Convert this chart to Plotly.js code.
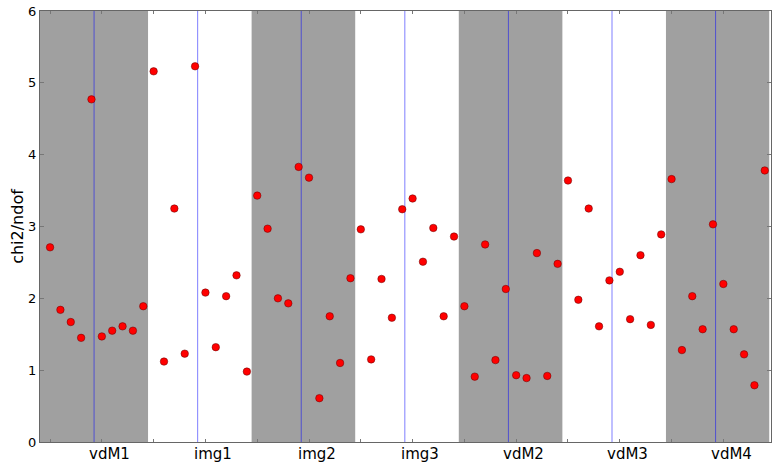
<!DOCTYPE html>
<html>
<head>
<meta charset="utf-8">
<script src="https://cdn.plot.ly/plotly-3.0.1.min.js"></script>
<style>html,body{margin:0;padding:0;background:#fff;}#chart{width:774px;height:465px;}</style>
</head>
<body>
<div id="chart"></div>
<script>
// Categories (groups of 10 measurements each)
var categories = ["vdM1", "img1", "img2", "img3", "vdM2", "vdM3", "vdM4"];

// chi2/ndof values per group
var vdM1 = [2.71, 1.84, 1.67, 1.45, 4.77, 1.47, 1.55, 1.61, 1.55, 1.89];
var img1 = [5.16, 1.12, 3.25, 1.23, 5.23, 2.08, 1.32, 2.03, 2.32, 0.98];
var img2 = [3.43, 2.97, 2.00, 1.93, 3.83, 3.68, 0.61, 1.75, 1.10, 2.28];
var img3 = [2.96, 1.15, 2.27, 1.73, 3.24, 3.39, 2.51, 2.98, 1.75, 2.86];
var vdM2 = [1.89, 0.91, 2.75, 1.14, 2.13, 0.93, 0.89, 2.63, 0.92, 2.48];
var vdM3 = [3.64, 1.98, 3.25, 1.61, 2.25, 2.37, 1.71, 2.60, 1.63, 2.89];
var vdM4 = [3.66, 1.28, 2.03, 1.57, 3.03, 2.20, 1.57, 1.22, 0.79, 3.78];

var groups = [vdM1, img1, img2, img3, vdM2, vdM3, vdM4];

var yTicks = [0, 1, 2, 3, 4, 5, 6];

// build flat series
var xs = [], ys = [];
groups.forEach(function (g, gi) {
  g.forEach(function (v, i) { xs.push(gi * 10 + i); ys.push(v); });
});

var XMIN = -0.97, XMAX = 69.6;
var shapes = [];
categories.forEach(function (c, gi) {
  if (gi % 2 === 0) {
    var x0 = gi === 0 ? XMIN - 1 : gi * 10 - 0.54;
    var x1 = gi === categories.length - 1 ? gi * 10 + 9.43 : gi * 10 + 9.46;
    shapes.push({type: "rect", xref: "x", yref: "paper", x0: x0, x1: x1, y0: 0, y1: 1,
      fillcolor: "#a0a0a0", line: {width: 0}, layer: "below"});
  }
});
categories.forEach(function (c, gi) {
  shapes.push({type: "line", xref: "x", yref: "paper", x0: gi * 10 + 4.25, x1: gi * 10 + 4.25, y0: 0, y1: 1,
    line: {color: "rgba(0,0,255,0.5)", width: 1}, layer: "below"});
});

var annotations = categories.map(function (c, gi) {
  return {text: c, x: gi * 10 + 5.75, xref: "x", y: 0, yref: "paper", yanchor: "top", xanchor: "center",
    yshift: -1, showarrow: false, font: {family: "DejaVu Sans", size: 15, color: "#000"}};
});

var tickvals = [];
for (var t = 0; t <= 65; t += 5) tickvals.push(t);

var trace = {
  x: xs, y: ys, type: "scatter", mode: "markers",
  marker: {size: 7.5, color: "#ff0000", line: {width: 0.6, color: "rgba(90,0,0,0.8)"}},
  hoverinfo: "skip"
};

var layout = {
  width: 774, height: 465,
  margin: {l: 40, r: 3, t: 11, b: 23, pad: 0},
  paper_bgcolor: "#fff", plot_bgcolor: "#fff",
  showlegend: false,
  font: {family: "DejaVu Sans", color: "#000"},
  xaxis: {range: [XMIN, XMAX], tickvals: tickvals, showticklabels: false, ticks: "inside", ticklen: 3,
    tickcolor: "#777", showgrid: false, zeroline: false, showline: true, linecolor: "#666", linewidth: 1,
    mirror: "ticks"},
  yaxis: {range: [0, 6], tickvals: yTicks, ticks: "inside", ticklen: 4, tickcolor: "#777",
    showgrid: false, zeroline: false, showline: true, linecolor: "#666", linewidth: 1, mirror: "ticks",
    tickfont: {family: "DejaVu Sans", size: 13, color: "#000"},
    title: {text: "chi2/ndof", font: {family: "DejaVu Sans", size: 16, color: "#000"}, standoff: 0}},
  shapes: shapes,
  annotations: annotations
};

Plotly.newPlot("chart", [trace], layout, {displayModeBar: false, staticPlot: true});
</script>
</body>
</html>
